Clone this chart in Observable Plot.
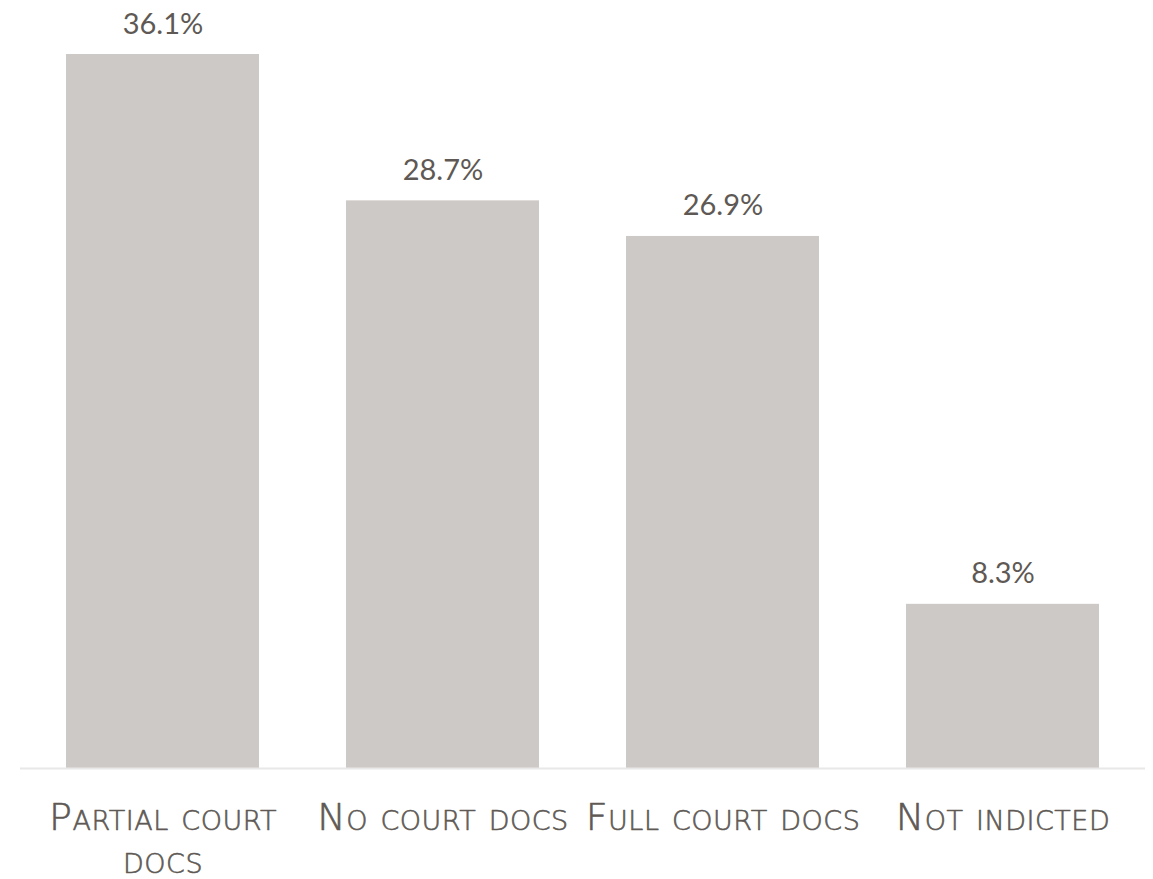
<!DOCTYPE html>
<html>
<head>
<meta charset="utf-8">
<script src="https://cdn.jsdelivr.net/npm/d3@7"></script>
<script src="https://cdn.jsdelivr.net/npm/@observablehq/plot@0.6"></script>
<style>
  html, body { margin: 0; padding: 0; background: #fff; }
  #chart svg { display: block; }
  .xlab text { font-variant: small-caps; font-family: "DejaVu Sans", sans-serif !important; letter-spacing: 0.5px; }
</style>
</head>
<body>
<div id="chart"></div>
<script>
const categories = ["Partial court docs", "No court docs", "Full court docs", "Not indicted"];
const values = [36.1, 28.7, 26.9, 8.3];

const data = categories.map((c, i) => ({category: c, value: values[i]}));

const chart = Plot.plot({
  width: 1153,
  height: 879,
  marginTop: 54,
  marginBottom: 111,
  marginLeft: 20,
  marginRight: 8,
  style: {fontFamily: "Lato, 'Noto Sans', sans-serif", background: "#fff"},
  x: {domain: categories, paddingInner: 0.31, paddingOuter: 0.157, axis: null},
  y: {domain: [0, 36.1], axis: null},
  marks: [
    Plot.barY(data, {x: "category", y: "value", fill: "#cdc9c6"}),
    Plot.ruleY([0], {stroke: "#e9e8e7", strokeWidth: 2}),
    Plot.text(data, {x: "category", y: "value", text: d => d.value.toFixed(1) + "%",
      dy: -21, lineAnchor: "bottom", fontSize: 29, fontWeight: 400, fill: "#5e5954"}),
    Plot.text(categories, {x: d => d, y: () => 0, text: d => d, dy: 30, lineAnchor: "top",
      fontSize: 38, fontWeight: 200, lineWidth: 8, lineHeight: 1.15,
      fill: "#5e5954", stroke: "#5e5954", strokeWidth: 0.6, className: "xlab"})
  ]
});
document.getElementById("chart").appendChild(chart);
</script>
</body>
</html>
